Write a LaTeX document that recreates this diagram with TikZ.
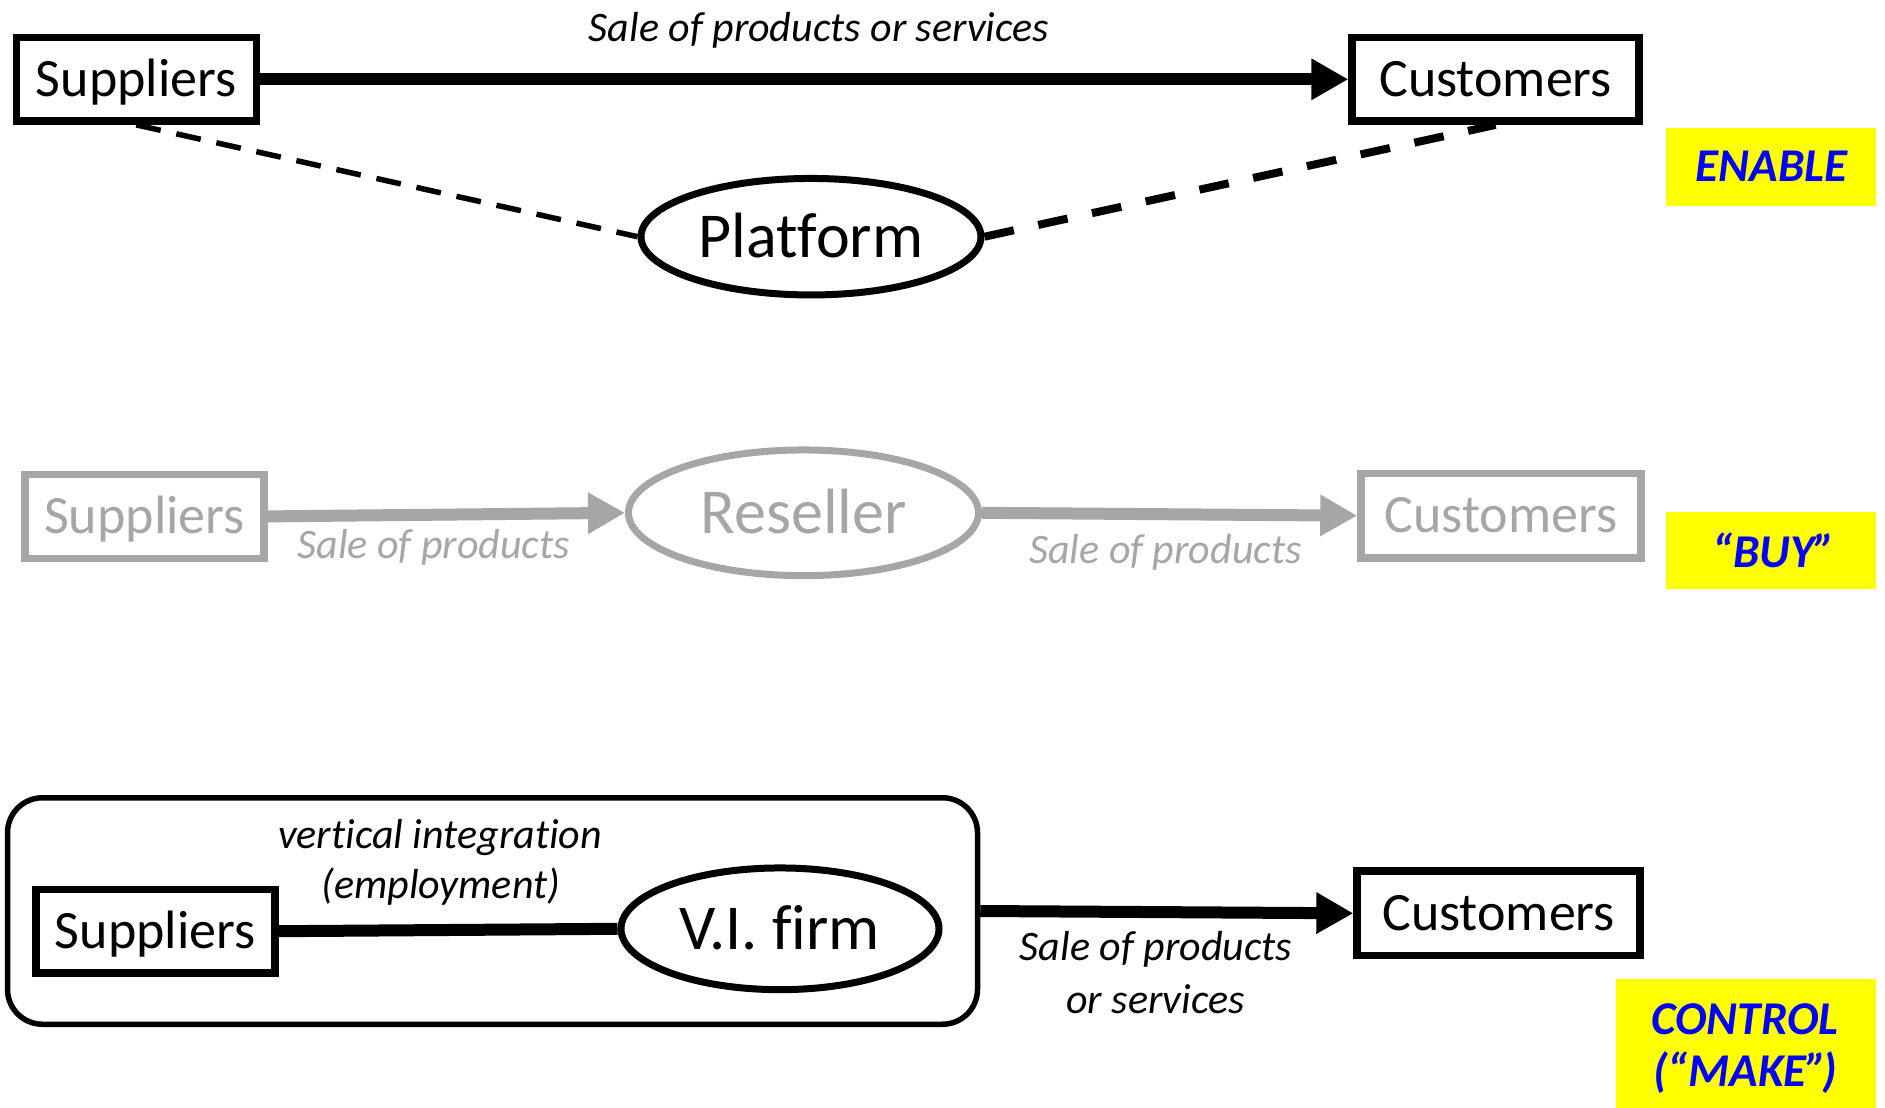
\documentclass[tikz,border=0pt]{standalone}
\usepackage{fontspec}
\setmainfont{Carlito}[Ligatures={TeX,NoCommon}]
\usetikzlibrary{arrows.meta,shapes.geometric}
\definecolor{fadegray}{HTML}{A6A6A6}
\definecolor{tagblue}{HTML}{0000FF}
\definecolor{tagyellow}{HTML}{FFFF00}

\tikzset{
  party/.style={draw, rectangle, line width=7.5pt, inner sep=0pt,
    text height=34pt, text depth=0pt, font=\fontsize{54}{60}\selectfont},
  hub/.style={draw, ellipse, line width=7pt, inner sep=0pt,
    text height=41pt, text depth=0pt, font=\fontsize{64}{70}\selectfont},
  flow/.style={line width=12pt, -{Triangle[length=37pt,width=39pt]}},
  link/.style={line width=12pt},
  faded/.style={draw=fadegray, text=fadegray},
  note/.style={font=\fontsize{42}{50}\selectfont\itshape, inner sep=0pt, anchor=base},
  tag/.style={fill=tagyellow, inner sep=0pt},
  tagtext/.style={text=tagblue, font=\fontsize{47}{54}\selectfont\bfseries\itshape,
    inner sep=0pt, anchor=base},
}

\begin{document}
\begin{tikzpicture}[x=1pt, y=-1pt]
  \fill[white] (0,0) rectangle (1885,1108);
  \useasboundingbox (0,0) rectangle (1885,1108);

  % --- platform: enable ---
  \node[party, minimum width=240pt, minimum height=83.7pt] (sup1) at (136.3,79.3) {Suppliers};
  \node[party, minimum width=287pt, minimum height=83.7pt] (cus1) at (1495.6,79.3) {Customers};
  \node[hub, minimum width=340pt, minimum height=116.5pt] (plat) at (811,236.7) {Platform};
  \draw[flow] (sup1.east) -- (cus1.west);
  \node[note] (sale1) at (819,41.7) {Sale of products or services};
  \draw[line width=5.5pt, dash pattern=on 25pt off 16pt] (sup1.south) -- (plat.west);
  \draw[line width=8pt, dash pattern=on 30pt off 25pt] (plat.east) -- (cus1.south);
  \node[tag, minimum width=210pt, minimum height=78.3pt] (enable) at (1771,166.85) {};
  \node[tagtext] (enable-txt) at (1771.6,181.7) {ENABLE};

  % --- reseller: buy ---
  \node[party, faded, minimum width=239pt, minimum height=84pt] (sup2) at (144.5,516.4) {Suppliers};
  \node[hub, faded, minimum width=350pt, minimum height=125.7pt] (resell) at (803.5,512.8) {Reseller};
  \node[party, faded, minimum width=280pt, minimum height=84.5pt] (cus2) at (1501,515.7) {Customers};
  \draw[flow, fadegray] (sup2.east) -- (resell.west);
  \draw[flow, fadegray] (resell.east) -- (cus2.west);
  \node[note, text=fadegray] (sale2) at (433.7,558.3) {Sale of products};
  \node[note, text=fadegray] (sale3) at (1165.5,563.3) {Sale of products};
  \node[tag, minimum width=210pt, minimum height=77pt] (buy) at (1771,550.8) {};
  \node[tagtext] (buy-txt) at (1774,567.3) {“BUY”};

  % --- vertically integrated firm: control ---
  \node[draw, rectangle, rounded corners=35pt, line width=5.5pt, inner sep=0pt,
        minimum width=970pt, minimum height=226.5pt] (vigroup) at (492.5,911) {};
  \node[party, minimum width=239pt, minimum height=83.3pt] (sup3) at (155.3,931.2) {Suppliers};
  \node[hub, minimum width=318pt, minimum height=121.7pt] (vifirm) at (780,928.8) {V.I. firm};
  \node[party, minimum width=283pt, minimum height=84.5pt] (cus3) at (1498.6,913.3) {Customers};
  \draw[link] (sup3.east) -- (vifirm.west);
  \draw[flow] (vigroup.east) -- (cus3.west);
  \node[note] (vi-note-a) at (440,848.3) {vertical integration};
  \node[note] (vi-note-b) at (440.7,898.3) {(employment)};
  \node[note] (sale4a) at (1156,960) {Sale of products};
  \node[note] (sale4b) at (1155.6,1013.3) {or services};
  \node[tag, minimum width=260pt, minimum height=129pt] (control) at (1746,1043.5) {};
  \node[tagtext] (control-txt-a) at (1745,1034) {CONTROL};
  \node[tagtext] (control-txt-b) at (1745,1086.7) {(“MAKE”\kern-5pt)};
\end{tikzpicture}
\end{document}
